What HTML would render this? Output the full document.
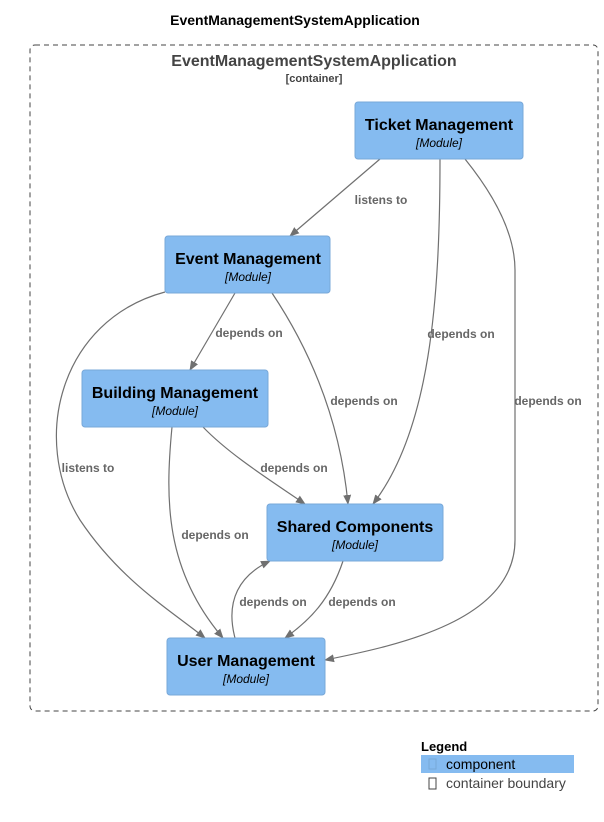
<!DOCTYPE html>
<html><head><style>
body{margin:0;background:#fff;font-family:"Liberation Sans",sans-serif;}
</style></head><body>
<svg width="604" height="817" xmlns="http://www.w3.org/2000/svg" font-family="Liberation Sans, sans-serif">
<defs><marker id="a" markerWidth="10" markerHeight="10" refX="9" refY="5" orient="auto" markerUnits="userSpaceOnUse"><path d="M0,1 L10,5 L0,9 z" fill="#707070"/></marker></defs>
<text x="295" y="25" text-anchor="middle" font-size="14" font-weight="bold">EventManagementSystemApplication</text>
<rect x="30" y="45" width="568" height="666" rx="5" fill="none" stroke="#444" stroke-dasharray="5,4"/>
<text x="314" y="66" text-anchor="middle" font-size="16" font-weight="bold" fill="#444">EventManagementSystemApplication</text>
<text x="314" y="82" text-anchor="middle" font-size="11" font-weight="bold" fill="#444">[container]</text>
<g fill="none" stroke="#707070" stroke-width="1.2" marker-end="url(#a)">
<path d="M380,159 L290,236"/>
<path d="M440,159 C440,300 430,430 373,504"/>
<path d="M465,159 C490,190 515,230 515,270 L515,540 C515,620 400,645 325,660"/>
<path d="M235,293 L190,370"/>
<path d="M272,293 C310,350 340,420 348,504"/>
<path d="M165,292 C60,320 30,440 80,520 C120,580 170,610 205,638"/>
<path d="M203,427 C230,455 270,480 305,504"/>
<path d="M172,427 C165,500 165,570 223,638"/>
<path d="M235,638 C225,600 240,575 270,561"/>
<path d="M343,561 C330,600 310,620 285,638"/>
</g>
<g font-size="12" font-weight="bold" fill="#666" text-anchor="middle">
<rect x="351" y="192" width="60" height="15" fill="#fff"/><text x="381" y="204">listens to</text>
<text x="461" y="338">depends on</text>
<text x="548" y="405">depends on</text>
<text x="249" y="337">depends on</text>
<text x="364" y="405">depends on</text>
<text x="88" y="472">listens to</text>
<text x="294" y="472">depends on</text>
<text x="215" y="539">depends on</text>
<text x="273" y="606">depends on</text>
<text x="362" y="606">depends on</text>
</g>
<g fill="#85bbf0" stroke="#78a8d8">
<rect x="355" y="102" width="168" height="57" rx="3"/>
<rect x="165" y="236" width="165" height="57" rx="3"/>
<rect x="82" y="370" width="186" height="57" rx="3"/>
<rect x="267" y="504" width="176" height="57" rx="3"/>
<rect x="167" y="638" width="158" height="57" rx="3"/>
</g>
<g text-anchor="middle" fill="#000">
<text x="439" y="130" font-size="16" font-weight="bold">Ticket Management</text><text x="439" y="147" font-size="12" font-style="italic">[Module]</text>
<text x="248" y="264" font-size="16" font-weight="bold">Event Management</text><text x="248" y="281" font-size="12" font-style="italic">[Module]</text>
<text x="175" y="398" font-size="16" font-weight="bold">Building Management</text><text x="175" y="415" font-size="12" font-style="italic">[Module]</text>
<text x="355" y="532" font-size="16" font-weight="bold">Shared Components</text><text x="355" y="549" font-size="12" font-style="italic">[Module]</text>
<text x="246" y="666" font-size="16" font-weight="bold">User Management</text><text x="246" y="683" font-size="12" font-style="italic">[Module]</text>
</g>
<text x="421" y="751" font-size="13" font-weight="bold">Legend</text>
<rect x="421" y="755" width="153" height="18" fill="#85bbf0"/>
<rect x="429" y="759" width="7" height="10" fill="none" stroke="#78a8d8"/>
<text x="446" y="769" font-size="14">component</text>
<rect x="429" y="778" width="7" height="11" fill="none" stroke="#444"/>
<text x="446" y="788" font-size="14" fill="#444">container boundary</text>
</svg>
</body></html>
